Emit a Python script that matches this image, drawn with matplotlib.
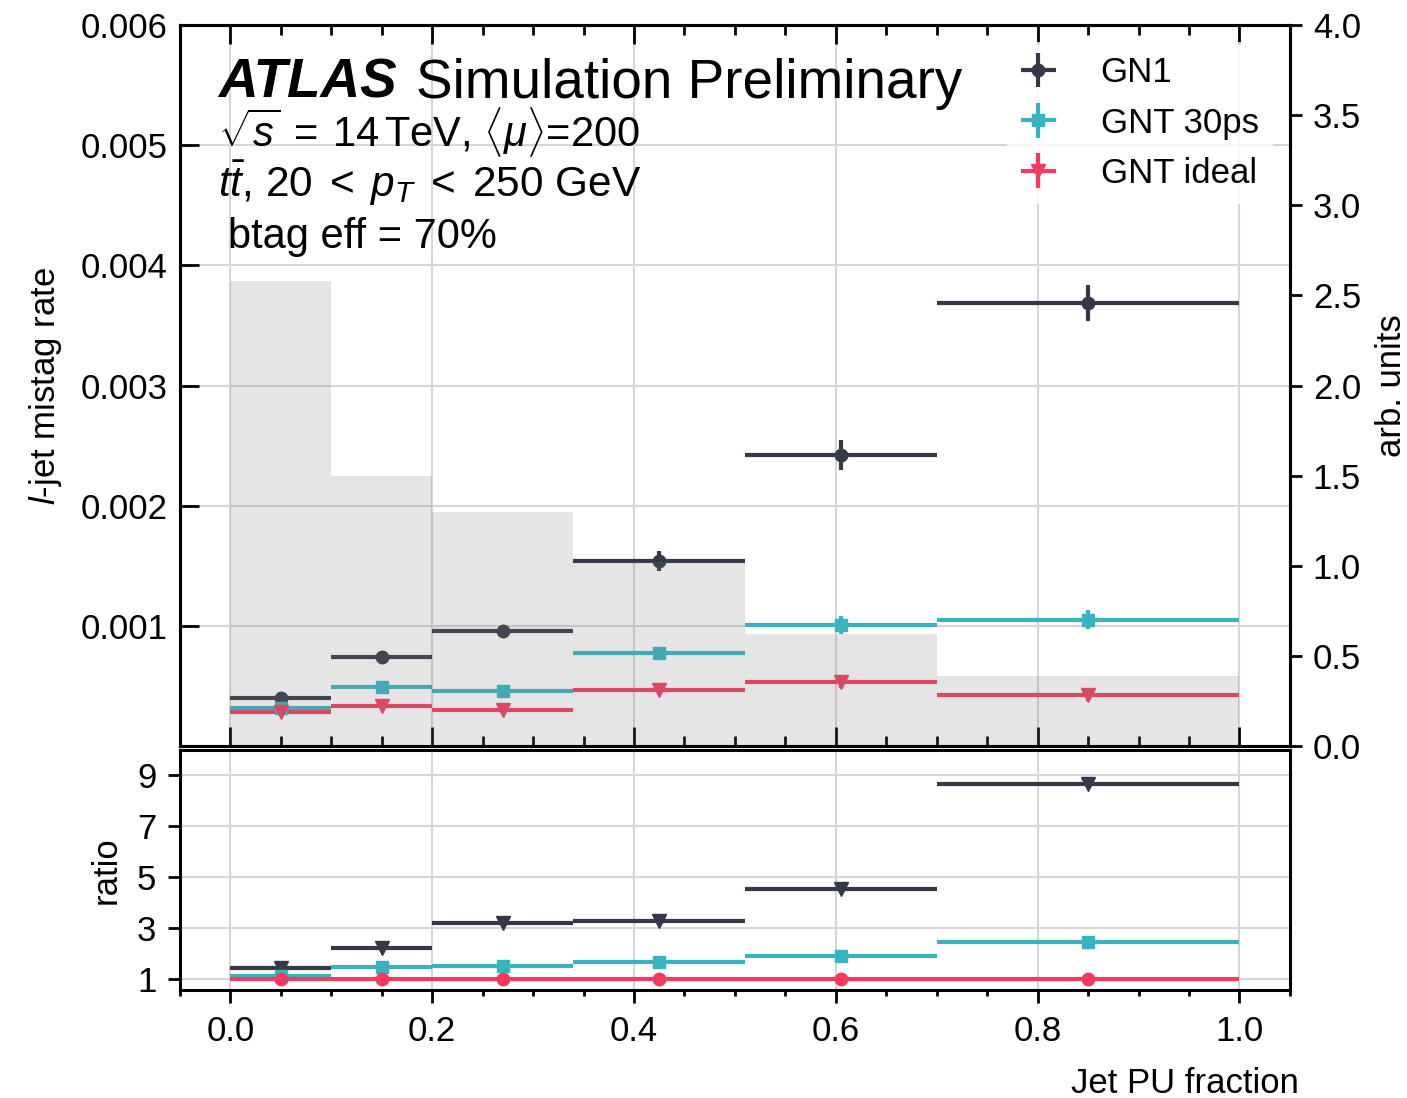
import numpy as np
import matplotlib.pyplot as plt
from matplotlib.ticker import MultipleLocator, FormatStrFormatter

plt.rcParams["font.family"] = ["Liberation Sans", "DejaVu Sans"]
plt.rcParams["mathtext.fontset"] = "custom"
plt.rcParams["mathtext.rm"] = "Liberation Sans"
plt.rcParams["mathtext.it"] = "Liberation Sans:italic"
plt.rcParams["mathtext.bf"] = "Liberation Sans:bold"
plt.rcParams["font.size"] = 25
plt.rcParams["axes.linewidth"] = 2.2

### Jet PU fraction binning and jet distribution (arb. units)
bin_edges = np.array([0.0, 0.1, 0.2, 0.34, 0.51, 0.7, 1.0])
jet_dist = np.array([2.58, 1.50, 1.30, 1.02, 0.62, 0.39])

### l-jet mistag rate at 70% b-tag efficiency
gn1 = np.array([0.000400, 0.000742, 0.000958, 0.00154, 0.00242, 0.00369])
gn1_err = np.array([0.00003, 0.00003, 0.00003, 0.00008, 0.000125, 0.00015])
gnt30 = np.array([0.000317, 0.000490, 0.000458, 0.000775, 0.00101, 0.00105])
gnt30_err = np.array([0.00003, 0.00003, 0.00003, 0.00004, 0.000075, 0.00008])
gntideal = np.array([0.000283, 0.000333, 0.000300, 0.000467, 0.000533, 0.000425])
gntideal_err = np.array([0.00003, 0.00003, 0.00003, 0.00004, 0.00005, 0.00005])

labels = ["GN1", "GNT 30ps", "GNT ideal"]
colors = ["#353846", "#38b3c0", "#f23b5e"]
###

centers = 0.5 * (bin_edges[1:] + bin_edges[:-1])
halfw = 0.5 * np.diff(bin_edges)

fig, (ax0, ax1) = plt.subplots(2, 1, figsize=(14.07, 10.98), dpi=100, sharex=True,
                               gridspec_kw={"height_ratios": [721, 240]})
fig.subplots_adjust(left=0.1279, right=0.9168, top=0.9772, bottom=0.0984, hspace=0.0083)

eb_kw = dict(ls="", capsize=0, elinewidth=3, linewidth=3)
ax0.errorbar(centers, gn1, xerr=halfw, yerr=gn1_err, marker="o", ms=9, color=colors[0], label=labels[0], **eb_kw)
ax0.errorbar(centers, gnt30, xerr=halfw, yerr=gnt30_err, marker="s", ms=9, color=colors[1], label=labels[1], **eb_kw)
ax0.errorbar(centers, gntideal, xerr=halfw, yerr=gntideal_err, marker="v", ms=10, color=colors[2], label=labels[2], **eb_kw)

# jet distribution on the right axis
ax0r = ax0.twinx()
ax0r.stairs(jet_dist, bin_edges, fill=True, color="gray", alpha=0.2, lw=0)
ax0r.set_ylim(0, 4)
ax0r.set_yticks(np.arange(0, 4.01, 0.5))
ax0r.yaxis.set_major_formatter(FormatStrFormatter("%.1f"))
ax0r.tick_params(axis="y", direction="out", length=8.5, width=2, pad=8)
ax0r.set_ylabel("arb. units", labelpad=10)

ax0.set_xlim(-0.05, 1.05)
ax0.set_ylim(0, 0.006)
ax0.set_yticks(np.arange(0.001, 0.00601, 0.001))
ax0.yaxis.set_major_formatter(FormatStrFormatter("%.3f"))
ax0.xaxis.set_major_locator(MultipleLocator(0.2))
ax0.xaxis.set_minor_locator(MultipleLocator(0.05))
ax0.tick_params(axis="x", which="major", direction="in", top=True, length=14, width=2)
ax0.tick_params(axis="x", which="minor", direction="in", top=True, length=7, width=2)
ax0.tick_params(axis="y", direction="in", length=14, width=2, pad=9)
ax0.set_ylabel(r"$l$-jet mistag rate", labelpad=12)
ax0.grid(color="#d6d6d6", lw=1.5)

t = ax0.text(0.034, 0.899, "ATLAS", transform=ax0.transAxes, fontsize=39.5,
             fontweight="bold", fontstyle="italic")
ax0.annotate("Simulation Preliminary", xy=(1, 0), xycoords=t, xytext=(14, 0),
             textcoords="offset points", fontsize=39.5, va="bottom")
ax0.text(0.034, 0.831, r"$\sqrt{s}\:=\:14\,$TeV, $\langle\mu\rangle$=200", transform=ax0.transAxes, fontsize=30)
ax0.text(0.034, 0.761, r"$t\bar{t}$, $20\;<\;p_T\;<\;250$ GeV", transform=ax0.transAxes, fontsize=30.5)
ax0.text(0.043, 0.691, "btag eff = 70%", transform=ax0.transAxes, fontsize=30)

leg = ax0.legend(loc="upper right", handlelength=1.0, handletextpad=1.3, framealpha=0.8, edgecolor="none")

# ratio to GNT ideal
ax1.errorbar(centers, gn1 / gntideal, xerr=halfw, marker="v", ms=10, color=colors[0], **eb_kw)
ax1.errorbar(centers, gnt30 / gntideal, xerr=halfw, marker="s", ms=9, color=colors[1], **eb_kw)
ax1.errorbar(centers, gntideal / gntideal, xerr=halfw, marker="o", ms=9, color=colors[2], **eb_kw)
ax1.set_ylim(0.57, 10.0)
ax1.set_yticks([1, 3, 5, 7, 9])
ax1.tick_params(axis="x", which="major", direction="out", length=9, width=2, pad=9)
ax1.tick_params(axis="x", which="minor", direction="out", length=4.5, width=2)
ax1.tick_params(axis="y", direction="out", length=9, width=2, pad=8)
ax1.set_ylabel("ratio", labelpad=10)
ax1.set_xlabel("Jet PU fraction", loc="right", labelpad=14)
ax1.xaxis.label.set_x(1.008)
ax1.grid(color="#d6d6d6", lw=1.5)

fig.savefig("out.png", dpi=100)
